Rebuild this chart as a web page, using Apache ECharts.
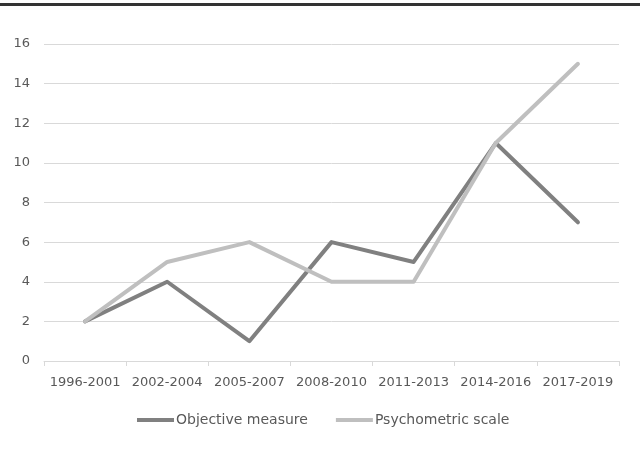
<!DOCTYPE html>
<html>
<head>
<meta charset="utf-8">
<script src="https://cdn.jsdelivr.net/npm/echarts@6/dist/echarts.min.js"></script>
<style>
  html, body { margin: 0; padding: 0; background: #fff; }
  #chart { width: 640px; height: 455px; }
</style>
</head>
<body>
<div id="chart"></div>
<script>
// 数据
var periods = ['1996-2001', '2002-2004', '2005-2007', '2008-2010', '2011-2013', '2014-2016', '2017-2019'];
var objective = [2, 4, 1, 6, 5, 11, 7];
var psychometric = [2, 5, 6, 4, 4, 11, 15];
var yTicks = [0, 2, 4, 6, 8, 10, 12, 14, 16];

var myChart = echarts.init(document.getElementById('chart'));

var textColor = '#595959';
var fontFamily = 'DejaVu Sans';

var option = {
    backgroundColor: '#fff',
    animation: false,
    // 顶部黑边
    graphic: [{
        type: 'rect',
        shape: { x: 0, y: 3, width: 640, height: 3 },
        style: { fill: '#333' }
    }],
    grid: {
        left: 44,
        right: 21,
        top: 44,
        bottom: 94
    },
    legend: {
        top: 413,
        left: 137,
        itemWidth: 37,
        itemHeight: 4,
        itemGap: 28,
        padding: 0,
        icon: 'rect',
        textStyle: { color: textColor, fontFamily: fontFamily, fontSize: 14, padding: [0, 0, 0, -3] },
        data: ['Objective measure', 'Psychometric scale']
    },
    xAxis: {
        type: 'category',
        data: periods,
        boundaryGap: true,
        axisLine: { lineStyle: { color: '#d9d9d9', width: 1 } },
        axisTick: { show: true, length: 5, lineStyle: { color: '#d9d9d9' } },
        axisLabel: { color: textColor, fontFamily: fontFamily, fontSize: 13, margin: 15, interval: 0 }
    },
    yAxis: {
        type: 'value',
        min: yTicks[0],
        max: yTicks[yTicks.length - 1],
        interval: 2,
        axisLine: { show: false },
        axisTick: { show: false },
        axisLabel: { color: textColor, fontFamily: fontFamily, fontSize: 13, margin: 14 },
        splitLine: { lineStyle: { color: '#d9d9d9', width: 1 } }
    },
    series: [
        {
            name: 'Objective measure',
            type: 'line',
            data: objective,
            symbol: 'none',
            color: '#808080',
            lineStyle: { width: 4, color: '#808080', cap: 'round', join: 'round' }
        },
        {
            name: 'Psychometric scale',
            type: 'line',
            data: psychometric,
            symbol: 'none',
            color: '#bfbfbf',
            lineStyle: { width: 4, color: '#bfbfbf', cap: 'round', join: 'round' }
        }
    ]
};

myChart.setOption(option);
</script>
</body>
</html>
